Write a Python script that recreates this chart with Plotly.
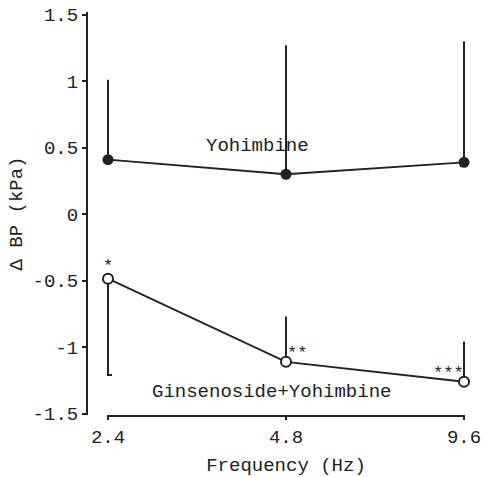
import numpy as np
import plotly.graph_objects as go

# Data (Delta BP in kPa, mean with one-sided error bars)
frequency = [2.4, 4.8, 9.6]
freq_labels = ["2.4", "4.8", "9.6"]

yohimbine = [0.41, 0.30, 0.39]
yohimbine_err = [0.60, 0.97, 0.91]

ginsenoside = [-0.485, -1.11, -1.26]
ginsenoside_err = [0.725, 0.34, 0.30]
ginsenoside_dir = ["down", "up", "up"]
ginsenoside_marks = ["*", "**", "***"]

y_ticks = [1.5, 1, 0.5, 0, -0.5, -1, -1.5]
y_labels = ["1.5", "1", "0.5", "0", "-0.5", "-1", "-1.5"]

INK = "#222222"
FONT = "Liberation Mono"

gin_up = [e if d == "up" else 0 for e, d in zip(ginsenoside_err, ginsenoside_dir)]
gin_down = [e if d == "down" else 0 for e, d in zip(ginsenoside_err, ginsenoside_dir)]

fig = go.Figure()

# Yohimbine: filled circles, error bars upward
fig.add_trace(go.Scatter(
    x=frequency, y=yohimbine, mode="lines+markers", name="Yohimbine",
    line=dict(color=INK, width=1.8), cliponaxis=False,
    marker=dict(symbol="circle", size=11, color=INK),
    error_y=dict(type="data", symmetric=False, array=yohimbine_err,
                 arrayminus=[0, 0, 0], color=INK, thickness=2, width=0),
))

# Ginsenoside + Yohimbine: downward bar (with cap) drawn separately
fig.add_trace(go.Scatter(
    x=frequency, y=ginsenoside, mode="markers", showlegend=False, cliponaxis=False,
    marker=dict(size=1, color="rgba(0,0,0,0)"),
    error_y=dict(type="data", symmetric=False, array=[0, 0, 0],
                 arrayminus=gin_down, color=INK, thickness=2, width=4),
))
fig.add_trace(go.Scatter(
    x=frequency, y=ginsenoside, mode="lines+markers", name="Ginsenoside+Yohimbine",
    line=dict(color=INK, width=1.8), cliponaxis=False,
    marker=dict(symbol="circle", size=10, color="white", line=dict(color=INK, width=2)),
    error_y=dict(type="data", symmetric=False, array=gin_up,
                 arrayminus=[0, 0, 0], color=INK, thickness=2, width=0),
))

# significance asterisks next to the open circles
shifts = [(0, 12), (11, 8), (-16, 8)]
for f, v, m, (dx, dy) in zip(frequency, ginsenoside, ginsenoside_marks, shifts):
    fig.add_annotation(x=np.log10(f), y=v, text=m, showarrow=False,
                       xshift=dx, yshift=dy, font=dict(family=FONT, size=17, color=INK))

# curve labels
fig.add_annotation(x=0.27, xref="x domain", y=0.515, yref="y", text="Yohimbine",
                   showarrow=False, font=dict(family=FONT, size=19, color=INK))
fig.add_annotation(x=0.46, xref="x domain", y=-1.34, yref="y",
                   text="Ginsenoside+Yohimbine",
                   showarrow=False, font=dict(family=FONT, size=19, color=INK))

lo, hi = np.log10(2.4), np.log10(9.6)
pad = (hi - lo) / 356

fig.update_layout(
    width=483, height=477,
    margin=dict(l=87, r=18, t=12, b=62),
    paper_bgcolor="white", plot_bgcolor="white",
    showlegend=False,
    font=dict(family=FONT, size=19, color=INK),
    xaxis=dict(
        type="log", domain=[20 / 378, 1], automargin=False,
        range=[lo - pad, hi + pad],
        tickvals=frequency, ticktext=freq_labels, ticklabeloverflow="allow",
        tickfont=dict(family=FONT, size=19, color=INK),
        showline=True, linecolor=INK, linewidth=2,
        ticks="outside", ticklen=3, tickwidth=2, tickcolor=INK,
        showgrid=False, zeroline=False,
        title=dict(text="Frequency (Hz)", standoff=11,
                   font=dict(family=FONT, size=19, color=INK)),
    ),
    yaxis=dict(
        anchor="free", position=0, automargin=False,
        range=[-1.51, 1.52],
        tickvals=y_ticks, ticktext=y_labels, ticklabeloverflow="allow",
        tickfont=dict(family=FONT, size=19, color=INK),
        showline=True, linecolor=INK, linewidth=2,
        ticks="outside", ticklen=4, tickwidth=2, tickcolor=INK,
        showgrid=False, zeroline=False,
        title=dict(text="\u0394 BP (kPa)", standoff=4,
                   font=dict(family=FONT, size=19, color=INK)),
    ),
)

# drop the page's default body margin so the figure fills the window
fig.write_html("out.html", config={"displayModeBar": False},
               post_script="document.body.style.margin = '0';")
